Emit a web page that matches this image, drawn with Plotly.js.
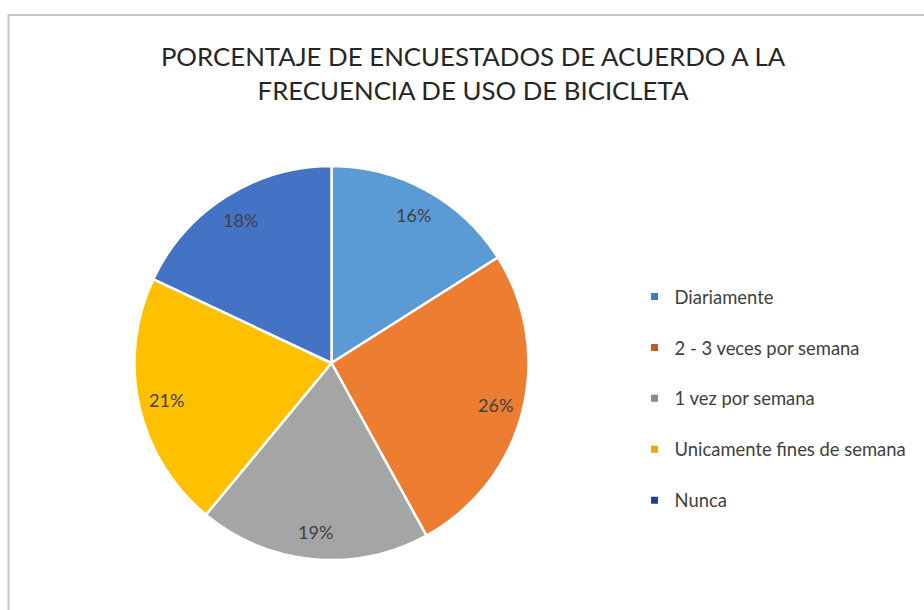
<!DOCTYPE html>
<html>
<head>
<meta charset="utf-8">
<script src="https://cdn.plot.ly/plotly-3.0.1.min.js"></script>
<style>html,body{margin:0;padding:0;background:#fff;}#chart{width:924px;height:610px;}</style>
</head>
<body>
<div id="chart"></div>
<script>
var categories = ["Diariamente", "2 - 3 veces por semana", "1 vez por semana", "Unicamente fines de semana", "Nunca"];
var values = [16, 26, 19, 21, 18];
var sliceColors = ["#5B9BD5", "#ED7D31", "#A5A5A5", "#FFC000", "#4472C4"];
var legendColors = ["#3A7DC0", "#C9581A", "#8A8A8A", "#E6AA00", "#1F3F8F"];
var titleText = "PORCENTAJE DE ENCUESTADOS DE ACUERDO A LA<br>FRECUENCIA DE USO DE BICICLETA";

var W = 924, H = 610;
var pieCx = 331.5, pieCy = 363, pieR = 197;
var domX = [(pieCx - pieR) / W, (pieCx + pieR) / W];
var domY = [(H - pieCy - pieR) / H, (H - pieCy + pieR) / H];

var fontFam = "Lato, 'Open Sans', sans-serif";

var traces = [{
  type: "pie",
  labels: categories,
  values: values,
  sort: false,
  direction: "clockwise",
  rotation: 0,
  marker: {colors: sliceColors, line: {color: "#ffffff", width: 2.5}},
  textinfo: "none",
  hoverinfo: "label+percent",
  showlegend: false,
  domain: {x: domX, y: domY}
}];

categories.forEach(function (c, i) {
  traces.push({
    type: "scatter",
    mode: "markers",
    x: [null], y: [null],
    name: c,
    legendgroup: "g" + i,
    marker: {symbol: "square", size: 7, color: legendColors[i]},
    showlegend: true,
    hoverinfo: "skip"
  });
});

// percentage labels placed from the data (cumulative angles)
var total = values.reduce(function (a, b) { return a + b; }, 0);
var annotations = [];
var cum = 0;
values.forEach(function (v, i) {
  var mid = (cum + v / 2) / total * 2 * Math.PI;
  cum += v;
  var r = pieR * 0.86;
  var px = pieCx + r * Math.sin(mid);
  var py = pieCy - r * Math.cos(mid);
  annotations.push({
    x: px / W, y: 1 - py / H, xref: "paper", yref: "paper",
    text: Math.round(v / total * 100) + "%",
    showarrow: false,
    font: {family: fontFam, size: 18, color: "#404040"},
    xanchor: "center", yanchor: "middle"
  });
});

var layout = {
  width: W, height: H,
  margin: {l: 0, r: 0, t: 0, b: 0},
  paper_bgcolor: "#ffffff",
  plot_bgcolor: "#ffffff",
  font: {family: fontFam, color: "#404040"},
  title: {
    text: titleText,
    x: 473 / W, xanchor: "center",
    y: 1 - 66 / H, yanchor: "middle",
    font: {family: fontFam, size: 25.8, color: "#262626"}
  },
  xaxis: {visible: false},
  yaxis: {visible: false},
  showlegend: true,
  legend: {
    x: 0.69 - 3 / W, xanchor: "left",
    y: 1 - 278 / H, yanchor: "top",
    font: {family: fontFam, size: 18.4, color: "#404040"},
    tracegroupgap: 24,
    bgcolor: "rgba(0,0,0,0)"
  },
  annotations: annotations,
  shapes: [{
    type: "rect", xref: "paper", yref: "paper",
    x0: 8.5 / W, x1: 1.02, y0: -0.02, y1: 1 - 15 / H,
    line: {color: "#C6C6C6", width: 2},
    fillcolor: "rgba(0,0,0,0)",
    layer: "below"
  }]
};

Plotly.newPlot("chart", traces, layout, {displayModeBar: false, staticPlot: true});
</script>
</body>
</html>
